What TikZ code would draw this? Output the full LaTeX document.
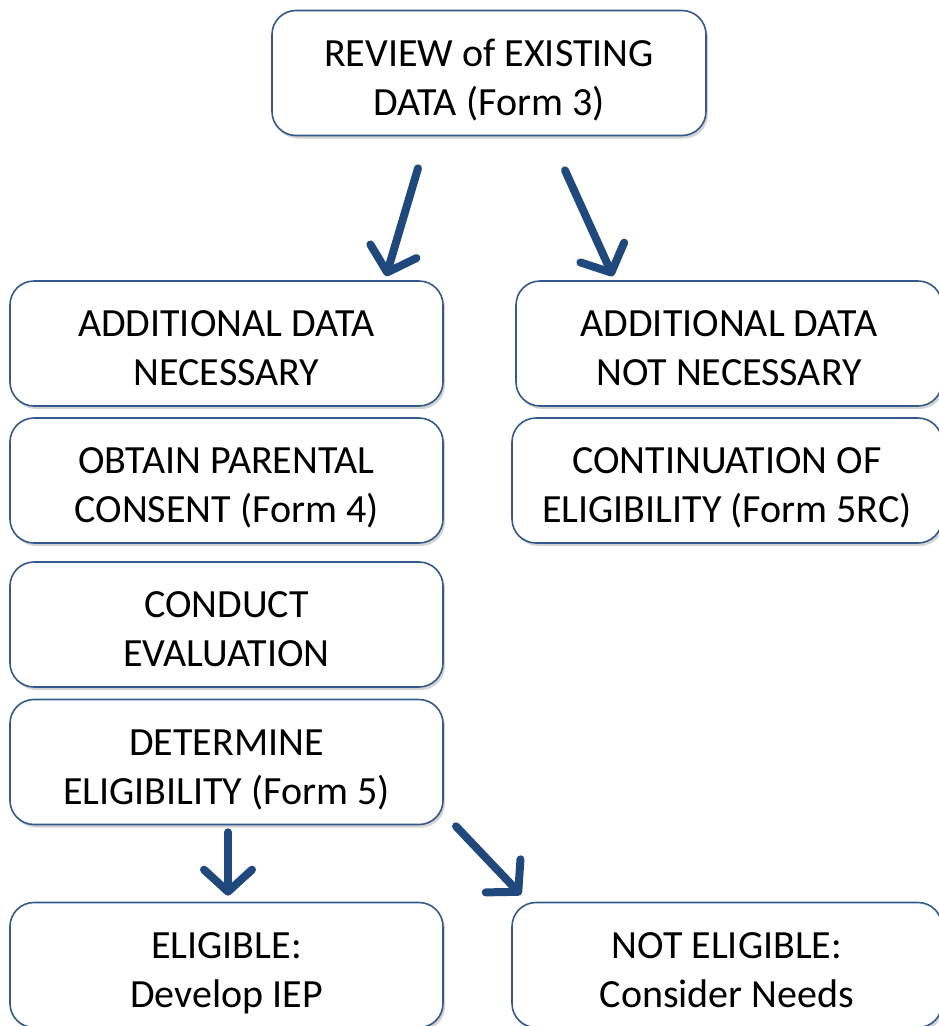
\documentclass[tikz,border=0pt]{standalone}
\usepackage{fontspec}
\setmainfont{Carlito}
\usetikzlibrary{arrows.meta,positioning,shadows,calc}
\definecolor{boxblue}{RGB}{52,90,140}
\definecolor{arrowblue}{RGB}{31,73,125}
\tikzset{
  stepbox/.style={draw=boxblue, line width=1.6pt, fill=white, rounded corners=24pt,
    minimum width=433pt, minimum height=125pt, align=center, inner sep=0pt,
    font=\fontsize{40}{49}\selectfont, text height=94pt, text depth=10pt,
    drop shadow={opacity=0.35, shadow xshift=2pt, shadow yshift=-3pt}},
  flow/.style={draw=arrowblue, line width=8pt, line cap=round, line join=round,
    -{Straight Barb[length=22pt, width=48pt, line cap=round, line join=round]}},
}
\begin{document}
\begin{tikzpicture}[x=1pt, y=-1pt]
  \useasboundingbox (0,0) rectangle (938,1026);
  % top of the chart
  \node[stepbox, minimum width=434pt] (review) at (489,73) {REVIEW of EXISTING\\DATA (Form 3)};
  % left column
  \node[stepbox] (datanec) at (226.5,343.5) {ADDITIONAL DATA\\NECESSARY};
  \node[stepbox] (consent) at (226.5,480.5) {OBTAIN PARENTAL\\CONSENT (Form 4)};
  \node[stepbox] (conduct) at (226.5,624.5) {CONDUCT\\EVALUATION};
  \node[stepbox] (determine) at (226.5,762) {DETERMINE\\ELIGIBILITY (Form 5)};
  \node[stepbox] (eligible) at (226.5,965) {ELIGIBLE:\\Develop IEP};
  % right column
  \node[stepbox, minimum width=426pt] (datanotnec) at (729,343.5) {ADDITIONAL DATA\\NOT NECESSARY};
  \node[stepbox, minimum width=430pt] (continue) at (727,480.5) {CONTINUATION OF\\ELIGIBILITY (Form 5RC)};
  \node[stepbox, minimum width=430pt] (noteligible) at (727,965) {NOT ELIGIBLE:\\Consider Needs};
  % arrows
  \draw[flow] ($(review.south)+(-71,32)$) -- ($(datanec.north)+(159.5,-4)$);
  \draw[flow] ($(review.south)+(76,34)$) -- ($(datanotnec.north)+(-116,-4)$);
  \draw[flow] ($(determine.south)+(1.5,7)$) -- ($(eligible.north)+(1.5,-6)$);
  \draw[flow] ($(determine.south)+(229.5,1)$) -- ($(noteligible.north)+(-206,-7)$);
\end{tikzpicture}
\end{document}
